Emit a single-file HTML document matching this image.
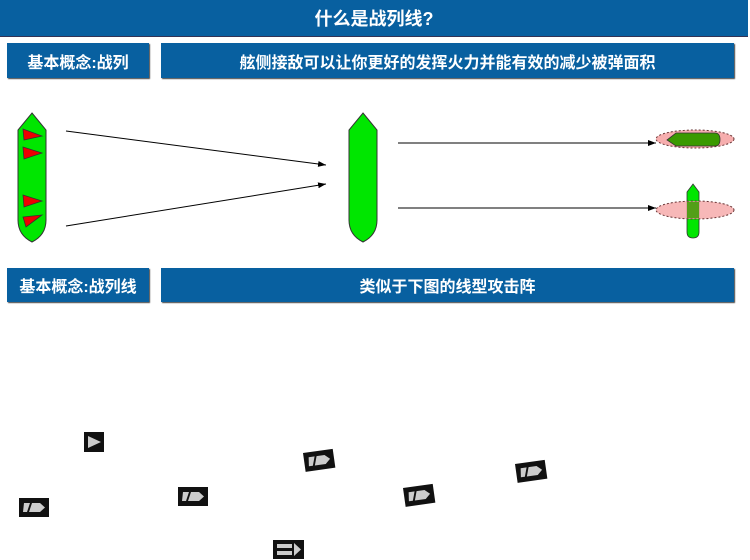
<!DOCTYPE html>
<html><head><meta charset="utf-8"><style>
body{margin:0;width:750px;height:560px;background:#fff;overflow:hidden;position:relative;font-family:"Liberation Sans","Noto Sans CJK SC",sans-serif}
.b{position:absolute;background:#0860a0;color:#fff;font-weight:bold;display:flex;align-items:center;justify-content:center;box-shadow:1px 1px 1px #444}
svg{position:absolute;left:0;top:0}
</style></head><body>
<div class="b" style="left:0;top:0;width:748px;height:36px;font-size:18px;box-shadow:none;border-bottom:1px solid #335">什么是战列线?</div>
<div class="b" style="left:7px;top:43px;width:142px;height:35px;font-size:16px">基本概念:战列</div>
<div class="b" style="left:161px;top:43px;width:573px;height:35px;font-size:16px">舷侧接敌可以让你更好的发挥火力并能有效的减少被弹面积</div>
<div class="b" style="left:7px;top:268px;width:142px;height:34px;font-size:16px">基本概念:战列线</div>
<div class="b" style="left:161px;top:268px;width:573px;height:34px;font-size:16px">类似于下图的线型攻击阵</div>
<svg width="750" height="560" viewBox="0 0 750 560">
<defs>
<marker id="a" markerWidth="8" markerHeight="6" refX="8" refY="3" orient="auto" markerUnits="userSpaceOnUse"><path d="M0,0L8,3L0,6z" fill="#000"/></marker>
<g id="ic"><rect x="0" y="0" width="30" height="19" fill="#111"/><path d="M5,5L11,5L8,14L4,14z" fill="#ccc"/><path d="M13,5L21,5L26,9.5L21,14L10,14z" fill="#ccc"/></g>
</defs>
<path d="M32,113L46,130L46,220Q46,235 32,242Q18,235 18,220L18,130z" fill="#00e600" stroke="#333" stroke-width="1"/>
<path d="M23,129L42,136L24,140z M23,147L42,153L24,159z M23,195L42,201L24,207z M23,217L42,215L26,227z" fill="#e00" stroke="#333" stroke-width="0.8"/>
<path d="M363,113L377,130L377,220Q377,235 363,242Q349,235 349,220L349,130z" fill="#00e600" stroke="#333" stroke-width="1"/>
<line x1="66" y1="131" x2="326" y2="165" stroke="#000" marker-end="url(#a)"/>
<line x1="66" y1="226" x2="326" y2="184" stroke="#000" marker-end="url(#a)"/>
<line x1="398" y1="143" x2="656" y2="143" stroke="#000" marker-end="url(#a)"/>
<line x1="398" y1="208" x2="656" y2="208" stroke="#000" marker-end="url(#a)"/>
<path d="M693,184L699,192L699,232Q699,238 693,238Q687,238 687,232L687,192z" fill="#00e600" stroke="#333" stroke-width="0.8"/>
<ellipse cx="695" cy="139" rx="39" ry="9" fill="#f4a0a0" fill-opacity="0.85" stroke="#633" stroke-dasharray="2,2"/>
<ellipse cx="695" cy="210" rx="39" ry="9" fill="#f4a0a0" fill-opacity="0.75" stroke="#633" stroke-dasharray="2,2"/>
<path d="M667,140L676,133L715,133Q720,133 720,139.5Q720,146 715,146L676,146z" fill="#3a9a00" stroke="#333" stroke-width="0.8"/>
<path d="M687,202L699,202L699,218L687,218z" fill="#3a9a00" opacity="0.8"/>
<rect x="84" y="432" width="20" height="20" fill="#111"/><path d="M88,436L101,442L88,448z" fill="#ccc"/>
<use href="#ic" transform="translate(303,453) rotate(-8)"/>
<use href="#ic" transform="translate(515,464) rotate(-8)"/>
<use href="#ic" transform="translate(403,488) rotate(-8)"/>
<use href="#ic" transform="translate(178,487)"/>
<use href="#ic" transform="translate(19,498)"/>
<rect x="273" y="540" width="31" height="19" fill="#111"/><path d="M277,544L292,544L292,548L277,548z M277,551L292,551L292,555L277,555z M294,543L301,549.5L294,556z" fill="#ccc"/>
</svg>
</body></html>
